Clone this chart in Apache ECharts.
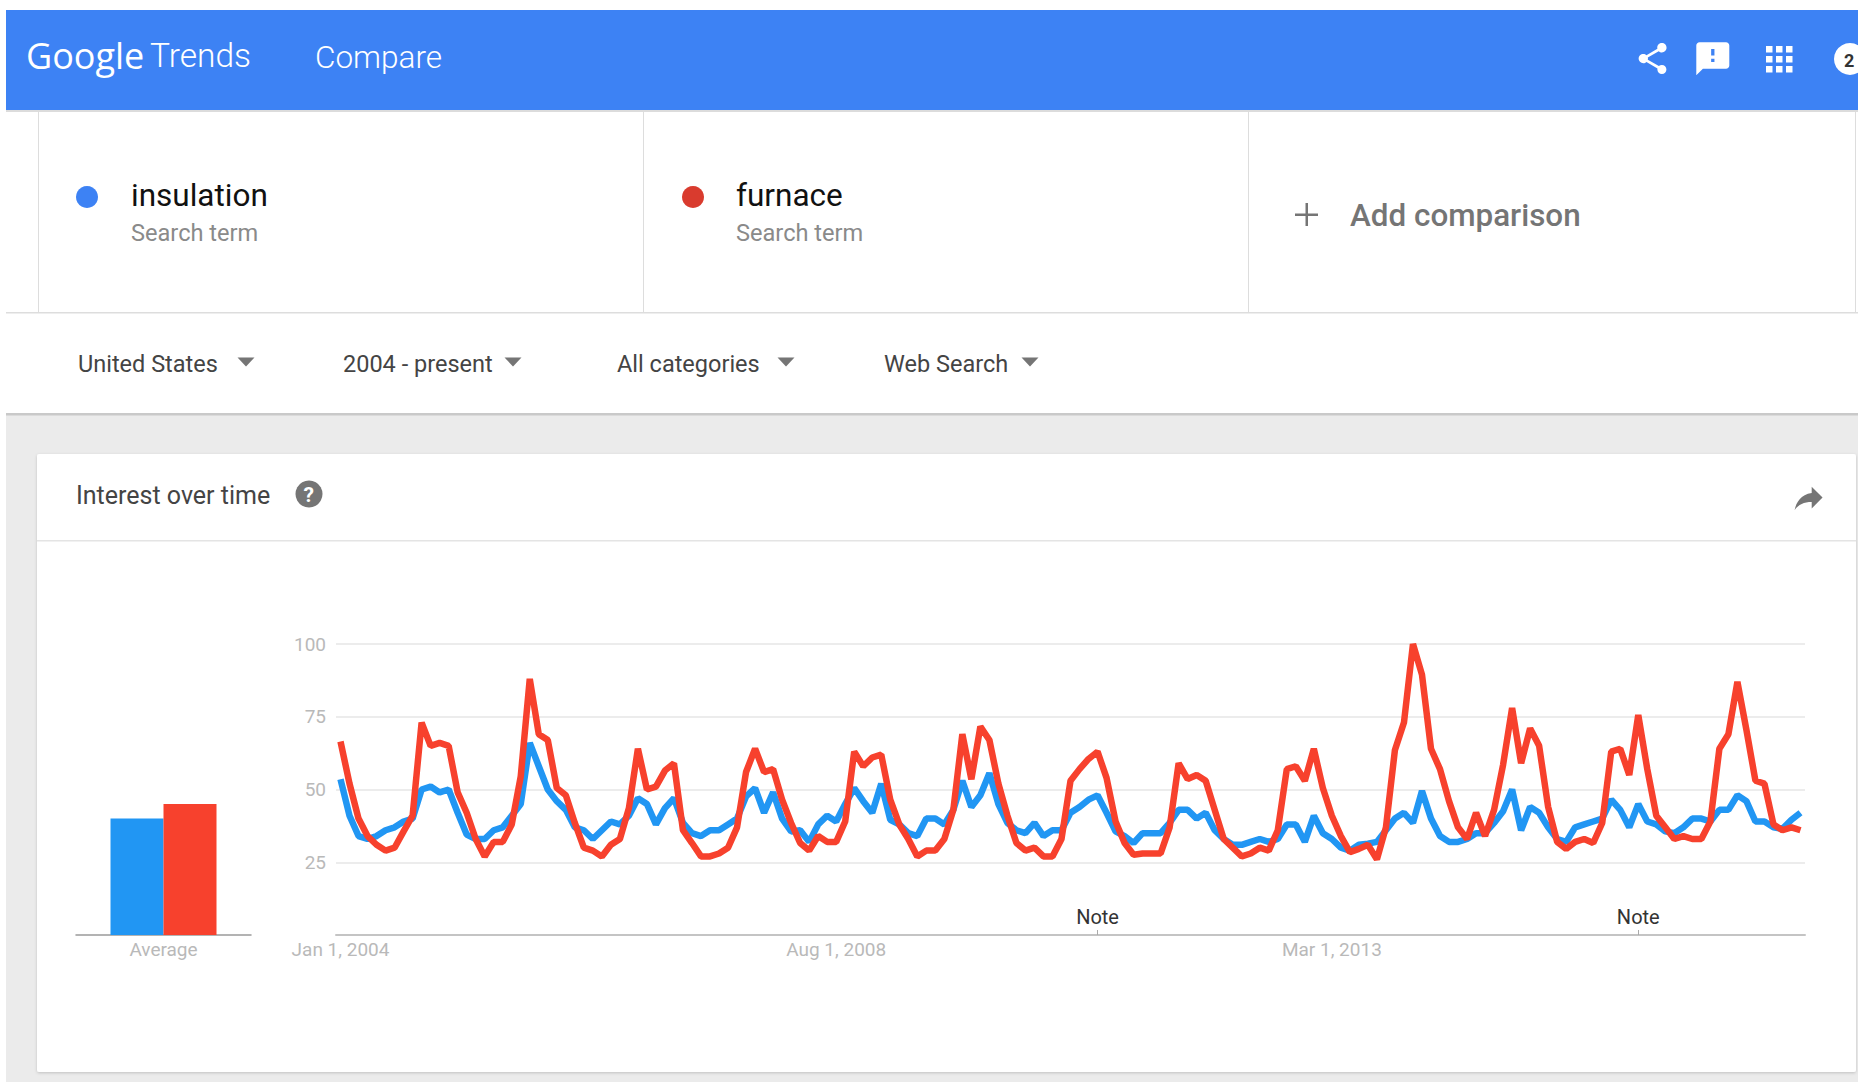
<!DOCTYPE html>
<html>
<head>
<meta charset="utf-8">
<title>Google Trends: insulation vs furnace</title>
<script src="https://cdn.jsdelivr.net/npm/echarts@6/dist/echarts.min.js"></script>
<style>html,body{margin:0;padding:0;background:#fff}#c{width:1858px;height:1082px}</style>
</head>
<body>
<div id="c"></div>
<script>
const termNames = ['insulation', 'furnace'];
const yTicks = [25, 50, 75, 100];
const xTickLabels = {0: 'Jan 1, 2004', 55: 'Aug 1, 2008', 110: 'Mar 1, 2013'};
const noteIndexes = [84, 144];
const averageValues = [40, 45];

const insulation = [
  53.5,41,34,33,34,36,37,39,40,50,51,49,50,42,34.5,33,33,36,37,41,45,66,58,50,46,43,37,36,33,36,39,38,41,47,45,38,43.6,47,38.5,35,34,36,36,38,40,47.6,50.5,42,49,40,35.6,36,32,38,
  41,39,45,50.5,46,42,52,39.6,38,35,34,40,40,38,43,53,44,48,55.6,45,38.5,36,35,38.5,34,36,36,42,44,46.5,48,42,35.6,34,31.6,35,35,35,38.5,43,43,40,42,36,33,31,31,32,33,32,33,38,38,32,41,35,33,30,
  29,31,31.4,32,36,40,42,38.5,49.5,40,34,32,32,33,35,35,38.5,42.5,50,36,44,42,37,33,32,37,38,39,40,46.5,43,37,45,39,38,35.6,35,37,40,40,39,43,43,48,46,39,39,37,36.5,39.6,42
];
const furnace = [
  66.5,52,40,34,31,29,30,35.6,41,73,65,66,65,49,42,33,27,32,32,38,54.5,88,69,67,50.5,48,38.5,30,29,27,31,33,43.6,64,50,51,56.5,59,36,31.6,27,27,28,30,37,56,64,56,57,46.5,38.5,31.6,29,34,
  32,32,39,63,58,61,62,46.5,38,33,27,29,29,33,43,69,53.5,71.6,67,52,41,31.6,29,30,27,27,33,53,57,60.5,63,54,39,31.6,27.6,28,28,28,37,59,53.6,55,53,43,33,30,27,28,30,29,36,57,58,53,64,50.5,41,34,
  28.5,29.6,31,26,37,63.6,73,100,89.5,64,57,46,37,33,42,34,43,58.5,78,59,71,65,44,32,29.6,32,33,31.6,38.5,63,64,55,75.6,57,41,37,33,34,33,33,39,64,69,87,70.5,53,52,38,36,37,36
];
const months = furnace.map((_, i) => {
  const m = i % 12 + 1;
  return (2004 + Math.floor(i / 12)) + '-' + (m < 10 ? '0' + m : m);
});

const BLUE = '#2196f3', RED = '#f7412d';
const FONT = 'Roboto, "Noto Sans", sans-serif';

const iconPaths = {
  iconShare: 'M18 16.08c-.76 0-1.44.3-1.96.77L8.91 12.7c.05-.23.09-.46.09-.7s-.04-.47-.09-.7l7.05-4.11c.54.5 1.25.81 2.04.81 1.66 0 3-1.34 3-3s-1.34-3-3-3-3 1.34-3 3c0 .24.04.47.09.7L8.04 9.81C7.5 9.31 6.79 9 6 9c-1.66 0-3 1.34-3 3s1.34 3 3 3c.79 0 1.5-.31 2.04-.81l7.12 4.16c-.05.21-.08.43-.08.65 0 1.61 1.31 2.92 2.92 2.92 1.61 0 2.92-1.31 2.92-2.92s-1.31-2.92-2.92-2.92z',
  iconFeedback: 'M20 2H4c-1.1 0-2 .9-2 2v18l4-4h14c1.1 0 2-.9 2-2V4c0-1.1-.9-2-2-2zm-7 12h-2v-2h2v2zm0-4h-2V6h2v4z',
  iconForward: 'M14 9V5l7 7-7 7v-4.1c-5 0-8.5 1.6-11 5.1 1-5 4-10 11-11z'
};
Object.keys(iconPaths).forEach(k => echarts.graphic.registerShape(k, echarts.graphic.extendPath(iconPaths[k], {})));

function txt(x, y, text, size, fill, extra) {
  return {type: 'text', x, y, silent: true, z: 6, style: Object.assign({
    text, fontSize: size, fill, fontFamily: FONT, verticalAlign: 'middle'
  }, extra || {})};
}
function rect(x, y, w, h, fill, extra) {
  return Object.assign({type: 'rect', silent: true, z: 1, shape: {x, y, width: w, height: h}, style: {fill}}, extra || {});
}
function tri(cx, cy) {
  return {type: 'polygon', silent: true, z: 6, shape: {points: [[cx - 8.5, cy - 4.5], [cx + 8.5, cy - 4.5], [cx, cy + 4.5]]}, style: {fill: '#757575'}};
}
function icon(name, x, y, s, fill) {
  return {type: name, silent: true, z: 6, x, y, scaleX: s, scaleY: s, style: {fill}};
}

const chrome = [
  rect(0, 0, 1858, 1082, '#ffffff', {z: 0}),
  rect(6, 10, 1852, 100, '#3d82f4', {z: 3}),
  rect(6, 110, 1852, 2, '#dcdcdc', {z: 3}),
  rect(6, 312, 1852, 1.5, '#dddddd'),
  rect(38, 112, 1, 200, '#dddddd'),
  rect(643, 112, 1, 200, '#dddddd'),
  rect(1248, 112, 1, 200, '#dddddd'),
  rect(1855, 112, 1, 200, '#dddddd'),
  rect(6, 413, 1852, 669, '#ebebeb'),
  rect(6, 413, 1852, 2.5, '#c9c9c9'),
  rect(37, 454, 1819, 618, '#ffffff', {z: 2, shape: {x: 37, y: 454, width: 1819, height: 618, r: 2},
    style: {fill: '#ffffff', shadowBlur: 3, shadowColor: 'rgba(0,0,0,0.18)', shadowOffsetY: 1}}),
  rect(37, 540, 1819, 1.5, '#e4e4e4', {z: 3}),

  txt(26, 55, 'Google', 36, '#ffffff', {fontFamily: '"Open Sans", Roboto, sans-serif'}),
  txt(150, 55, 'Trends', 33.5, '#ffffff', {fontWeight: 300}),
  txt(315, 57, 'Compare', 31.5, '#ffffff', {fontWeight: 300}),

  icon('iconShare', 1634, 40, 1.55, '#ffffff'),
  icon('iconFeedback', 1693, 39, 1.65, '#ffffff'),
  {type: 'circle', silent: true, z: 6, shape: {cx: 1850, cy: 59, r: 16}, style: {fill: '#ffffff'}},
  txt(1844, 60, '2', 18, '#333333', {fontWeight: 700}),

  {type: 'circle', silent: true, z: 6, shape: {cx: 87, cy: 197, r: 11}, style: {fill: '#3d82f4'}},
  txt(131, 195, termNames[0], 31.5, '#111111'),
  txt(131, 233, 'Search term', 23.6, '#8a8a8a'),
  {type: 'circle', silent: true, z: 6, shape: {cx: 693, cy: 197, r: 11}, style: {fill: '#d93b2e'}},
  txt(736, 195, termNames[1], 31.5, '#111111'),
  txt(736, 233, 'Search term', 23.6, '#8a8a8a'),
  rect(1295, 213.5, 23, 2.5, '#757575', {z: 6}),
  rect(1305.5, 203, 2.5, 23, '#757575', {z: 6}),
  txt(1350, 215, 'Add comparison', 31.4, '#757575', {fontWeight: 500}),

  txt(78, 364, 'United States', 23.5, '#444444'),
  tri(246, 362),
  txt(343, 364, '2004 - present', 23.5, '#444444'),
  tri(513, 362),
  txt(617, 364, 'All categories', 23.5, '#444444'),
  tri(786, 362),
  txt(884, 364, 'Web Search', 23.5, '#444444'),
  tri(1030, 362),

  txt(76, 495, 'Interest over time', 25, '#444444'),
  {type: 'circle', silent: true, z: 6, shape: {cx: 309, cy: 494, r: 13.5}, style: {fill: '#757575'}},
  txt(303.5, 495, '?', 21, '#ffffff', {fontWeight: 700}),
  icon('iconForward', 1790, 479, 1.55, '#757575')
];
for (let r = 0; r < 3; r++) for (let c = 0; c < 3; c++) {
  chrome.push(rect(1766 + c * 10, 46 + r * 10, 6.5, 6.5, '#ffffff', {z: 6}));
}

const axisLabelStyle = {color: '#b9b9b9', fontSize: 19, fontFamily: FONT};

const chart = echarts.init(document.getElementById('c'), null, {renderer: 'svg', width: 1858, height: 1082});
chart.setOption({
  animation: false,
  backgroundColor: 'transparent',
  graphic: {elements: chrome},
  grid: [
    {left: 336, right: 53, top: 644, bottom: 147},
    {left: 76, width: 175, top: 644, bottom: 147}
  ],
  xAxis: [
    {
      type: 'category', gridIndex: 0, data: months, boundaryGap: true, z: 3,
      axisLine: {lineStyle: {color: '#c4c4c4', width: 2}},
      axisTick: {show: true, inside: true, length: 5, alignWithLabel: true,
        interval: i => noteIndexes.includes(i), lineStyle: {color: '#aaaaaa', width: 1}},
      axisLabel: Object.assign({margin: 5, interval: i => i in xTickLabels,
        formatter: (v, i) => xTickLabels[i] || ''}, axisLabelStyle),
      splitLine: {show: false}
    },
    {
      type: 'category', gridIndex: 1, data: ['Average'], z: 3,
      axisLine: {lineStyle: {color: '#9a9a9a', width: 1.5}},
      axisTick: {show: false},
      axisLabel: Object.assign({margin: 5}, axisLabelStyle)
    }
  ],
  yAxis: [
    {
      type: 'value', gridIndex: 0, min: 0, max: 100, interval: 25, z: 3,
      axisLine: {show: false}, axisTick: {show: false},
      axisLabel: Object.assign({margin: 10, formatter: v => yTicks.includes(v) ? String(v) : ''}, axisLabelStyle),
      splitLine: {lineStyle: {color: '#ececec', width: 2}}
    },
    {type: 'value', gridIndex: 1, min: 0, max: 100, show: false, splitLine: {show: false}}
  ],
  series: [
    {
      name: termNames[0], type: 'line', xAxisIndex: 0, yAxisIndex: 0, data: insulation,
      symbol: 'none', lineStyle: {color: BLUE, width: 6.5, join: 'bevel'}, z: 4, silent: true,
      markPoint: {
        silent: true, symbol: 'circle', symbolSize: 0,
        label: {show: true, position: 'top', distance: 8, formatter: 'Note', color: '#333333', fontSize: 20, fontFamily: FONT},
        data: noteIndexes.map(i => ({coord: [months[i], 0]}))
      }
    },
    {
      name: termNames[1], type: 'line', xAxisIndex: 0, yAxisIndex: 0, data: furnace,
      symbol: 'none', lineStyle: {color: RED, width: 6.5, join: 'bevel'}, z: 5, silent: true
    },
    {
      name: termNames[0], type: 'bar', xAxisIndex: 1, yAxisIndex: 1, data: [averageValues[0]],
      barWidth: 53, barGap: 0, itemStyle: {color: BLUE}, z: 4, silent: true
    },
    {
      name: termNames[1], type: 'bar', xAxisIndex: 1, yAxisIndex: 1, data: [averageValues[1]],
      barWidth: 53, barGap: 0, itemStyle: {color: RED}, z: 4, silent: true
    }
  ]
});
</script>
</body>
</html>
